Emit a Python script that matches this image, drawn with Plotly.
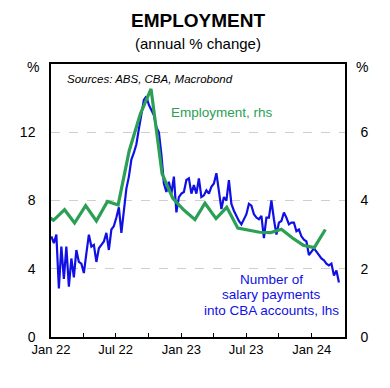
import pandas as pd
import plotly.graph_objects as go

# Employment, annual % change (rhs), monthly
emp_months = ["2021-11", "2021-12", "2022-01", "2022-02", "2022-03", "2022-04", "2022-05",
              "2022-06", "2022-07", "2022-08", "2022-09", "2022-10", "2022-11", "2022-12",
              "2023-01", "2023-02", "2023-03", "2023-04", "2023-05", "2023-06", "2023-07",
              "2023-08", "2023-09", "2023-10", "2023-11", "2023-12", "2024-01"]
emp_values = [3.65, 3.42, 3.73, 3.34, 3.85, 3.40, 3.97,
              3.87, 5.46, 6.53, 7.27, 4.78, 4.06, 3.72,
              3.44, 3.92, 3.47, 3.80, 3.19, 3.12, 3.07,
              3.06, 3.16, 2.90, 2.69, 2.62, 3.15]

# Number of salary payments into CBA accounts, annual % change (lhs), weekly
sal_start = "2022-01-02"
sal_values = [5.9, 5.5, 6.0, 2.85, 5.3, 3.4, 5.3, 2.95, 4.6, 3.5,
              5.1, 4.4, 4.3, 3.75, 4.9, 6.0, 5.3, 5.4, 4.4, 5.2,
              5.4, 5.6, 6.1, 5.1, 6.3, 6.5, 7.0, 7.6, 6.1, 7.4,
              8.7, 9.4, 10.4, 10.8, 11.3, 12.2, 13.0, 13.9, 14.1, 13.6,
              13.3, 13.0, 12.3, 12.0, 10.7, 9.0, 8.5, 9.1, 8.4, 9.4,
              7.3, 8.2, 8.4, 8.5, 9.2, 9.3, 8.4, 8.9, 8.4, 9.3,
              8.2, 8.3, 8.6, 8.4, 8.8, 9.0, 9.6, 8.6, 7.5, 8.2,
              8.0, 9.2, 7.8, 7.4, 7.1, 6.8, 6.6, 6.9, 7.2, 7.8,
              7.7, 7.2, 7.0, 6.9, 7.1, 5.8, 7.0, 7.0, 8.0, 6.9,
              6.0, 6.7, 6.8, 7.3, 7.0, 6.6, 6.7, 6.7, 6.2, 6.3,
              5.9, 5.7, 5.6, 4.8, 5.0, 5.2, 5.0, 4.8, 4.6, 4.5,
              4.3, 4.2, 4.3, 3.6, 3.9, 3.2]

left_ticks = [0, 4, 8, 12]
right_ticks = [0, 2, 4, 6]

emp_dates = (pd.to_datetime(emp_months) + pd.offsets.MonthEnd(0) + pd.Timedelta(days=8))
sal_dates = pd.date_range(sal_start, periods=len(sal_values), freq="7D")

BLUE = "#0f0fe6"
GREEN = "#2ba055"
FONT = "Liberation Sans, Arial, sans-serif"

# page body has an 8px default margin: plot area placed at x 44..345, y 64..337 on the page
OFF = 8
L, R, T, B = 44, 345, 64, 337
W, H = 390, 388

fig = go.Figure()
fig.add_trace(go.Scatter(x=sal_dates, y=sal_values, mode="lines",
                         line=dict(color=BLUE, width=2.2), yaxis="y", showlegend=False))
fig.add_trace(go.Scatter(x=emp_dates, y=emp_values, mode="lines",
                         line=dict(color=GREEN, width=3.2), yaxis="y2", showlegend=False))

fig.update_layout(
    width=W, height=H,
    margin=dict(l=L - OFF, r=W - R + OFF, t=T - OFF, b=H - B + OFF, pad=0),
    paper_bgcolor="white", plot_bgcolor="white",
    font=dict(family=FONT, size=13, color="black"),
    xaxis=dict(range=["2022-01-01", "2024-04-03"], dtick="M6", tick0="2022-01-01",
               tickformat="%b %y", ticks="inside", ticklen=4, tickcolor="black",
               minor=dict(dtick="M3", ticks="inside", ticklen=4, tickcolor="black"),
               showline=True, linecolor="black", linewidth=1.5, mirror=True,
               showgrid=False, zeroline=False, tickfont=dict(size=13)),
    yaxis=dict(range=[0, 16], tickvals=left_ticks, showline=True, linecolor="black",
               linewidth=1.5, mirror=True, showgrid=True, gridcolor="#cfcfcf",
               griddash="dash", gridwidth=1, zeroline=False, ticks="",
               ticklabelstandoff=11, tickfont=dict(size=14)),
    yaxis2=dict(range=[0, 8], tickvals=right_ticks, overlaying="y", side="right",
                showline=True, linecolor="black", linewidth=1.5, showgrid=False,
                zeroline=False, ticks="", ticklabelstandoff=11, tickfont=dict(size=14)),
)


def py(ypix):
    # page pixel row -> paper coordinate of the plot area
    return (B - ypix) / (B - T)


def px(xpix):
    return (xpix - L) / (R - L)


def note(text, x, y, size, color="black", xanchor="center"):
    fig.add_annotation(text=text, xref="paper", yref="paper", x=px(x), y=py(y),
                       showarrow=False, xanchor=xanchor, yanchor="middle",
                       font=dict(size=size, color=color, family=FONT))


note("<b>EMPLOYMENT</b>", 195, 21, 19)
note("(annual % change)", 195, 43, 15)
note("%", 26, 67, 14)
note("%", 362, 67, 14)
note("<i>Sources: ABS, CBA, Macrobond</i>", 58, 79, 11.5, xanchor="left")
note("Employment, rhs", 165, 112, 13.5, color=GREEN, xanchor="left")
note("Number of", 270, 279, 13.5, color=BLUE)
note("salary payments", 270, 294.5, 13.5, color=BLUE)
note("into CBA accounts, lhs", 270, 310, 13.5, color=BLUE)

fig.write_html("out.html")
